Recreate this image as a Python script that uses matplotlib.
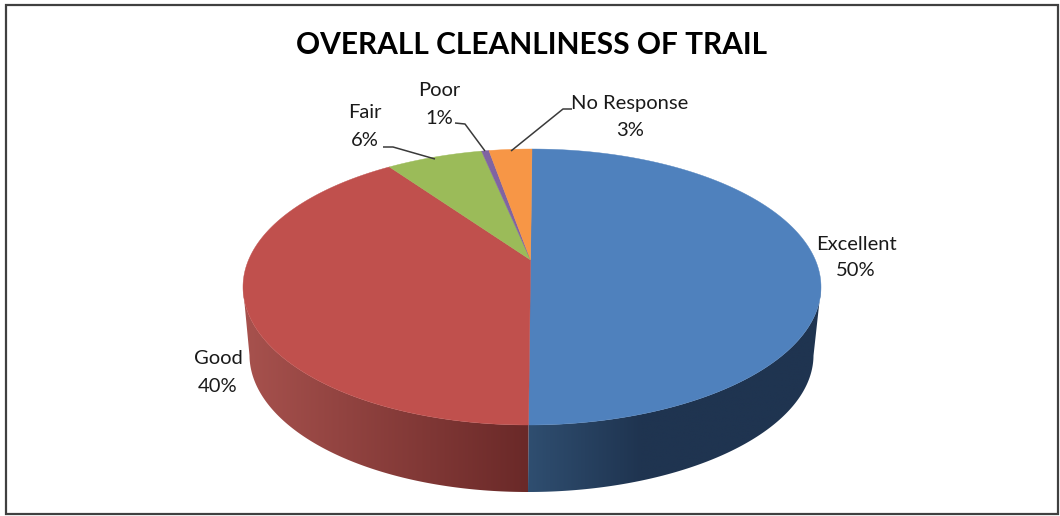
import numpy as np
import matplotlib
matplotlib.use("Agg")
import matplotlib.pyplot as plt
from matplotlib.colors import LinearSegmentedColormap
from matplotlib.patches import Polygon, Rectangle

title = "OVERALL CLEANLINESS OF TRAIL"
categories = ["Excellent", "Good", "Fair", "Poor", "No Response"]
values = [50.0, 40.1, 6.5, 0.5, 2.9]
pct_labels = ["50%", "40%", "6%", "1%", "3%"]
colors = ["#4F81BD", "#C0504D", "#9BBB59", "#8064A2", "#F79646"]
wall_colors = {
    "Excellent": [(0.0, "#2F4E70"), (0.38, "#1F3450"), (1.0, "#1F3450")],
    "Good": [(0.0, "#A8524E"), (1.0, "#6A2928")],
}
wall_spans = {"Excellent": (528, 826), "Good": (240, 529)}

plt.rcParams["font.family"] = ["Lato", "DejaVu Sans"]
fig = plt.figure(figsize=(10.6, 5.16), dpi=100, facecolor="white")
ax = fig.add_axes([0, 0, 1, 1])

# perspective mapping of the pie disc
CX, CY, RX, RY = 532.0, 287.0, 289.0, 138.0
K = 0.196
LEAN = 1.75


def project(theta):
    u, v = np.cos(theta), np.sin(theta)
    d = 1 + K * v
    return u * np.sqrt(1 - K ** 2) / d, (v + K) / d


def top_xy(theta):
    X, Y = project(theta)
    return CX + RX * X + LEAN * (Y - 1) * (1 - X ** 2), CY - RY * Y


def bottom_xy(theta):
    X, Y = project(theta)
    return 531.5 + 282.0 * X + LEAN * (Y - 1) * (1 - X ** 2), 355.0 - 137.0 * Y


fracs = np.array(values) / sum(values)
edges = np.pi / 2 - 2 * np.pi * np.concatenate([[0], np.cumsum(fracs)])

# side walls: the front half of the rim, shaded left to right
for name, t0, t1 in zip(categories, edges[:-1], edges[1:]):
    if name not in wall_colors:
        continue
    ts = np.linspace(t0, t1, 600)
    ts = ts[project(ts)[1] <= 0.0]
    xt, yt = top_xy(ts)
    xb, yb = bottom_xy(ts)
    poly = Polygon(np.c_[np.r_[xt, xb[::-1]], np.r_[yt, yb[::-1]]], closed=True,
                   fc="none", ec="none", transform=ax.transData)
    ax.add_patch(poly)
    x0, x1 = wall_spans[name]
    cmap = LinearSegmentedColormap.from_list(name, wall_colors[name])
    grad = np.linspace(0, 1, 256)[None, :]
    im = ax.imshow(grad, cmap=cmap, extent=(x0, x1, 500, 280), aspect="auto",
                   interpolation="bilinear", zorder=1)
    im.set_clip_path(poly)

ax.set_xlim(0, 1060)
ax.set_ylim(516, 0)
ax.axis("off")

# top face
apex_x, apex_y = CX - LEAN * (1 - K), CY - RY * K
for t0, t1, c in zip(edges[:-1], edges[1:], colors):
    ts = np.linspace(t0, t1, 200)
    xs, ys = top_xy(ts)
    ax.fill(np.r_[apex_x, xs], np.r_[apex_y, ys], color=c, lw=0.3, zorder=2)

# leader lines
leaders = {
    "Fair": ([383, 393, 435], [147, 147, 159]),
    "Poor": ([455, 465, 485], [123, 124, 151]),
    "No Response": ([572, 563, 511], [109, 109, 151]),
}
for xs, ys in leaders.values():
    ax.plot(xs, ys, color="#3A3A3A", lw=1.1, zorder=3, solid_capstyle="butt")

# labels
label_pos = {
    "Excellent": (856, 244, 271),
    "Good": (218, 359, 386),
    "Fair": (365, 113, 140),
    "Poor": (439, 91, 118),
    "No Response": (630, 103, 130),
}
for name, pct in zip(categories, pct_labels):
    x, y1, y2 = label_pos[name]
    ax.text(x, y1, name, ha="center", va="center", fontsize=14.5, color="#1A1A1A", zorder=4)
    ax.text(x, y2, pct, ha="center", va="center", fontsize=14.5, color="#1A1A1A", zorder=4)

ax.text(532, 45, title, ha="center", va="center", fontsize=21.5, fontweight="bold",
        color="black", zorder=4)

# chart frame
ax.add_patch(Rectangle((6, 4.5), 1052, 509.5, fill=False, ec="#404040", lw=1.6, zorder=5))

fig.savefig("out.png", dpi=100, facecolor="white")
